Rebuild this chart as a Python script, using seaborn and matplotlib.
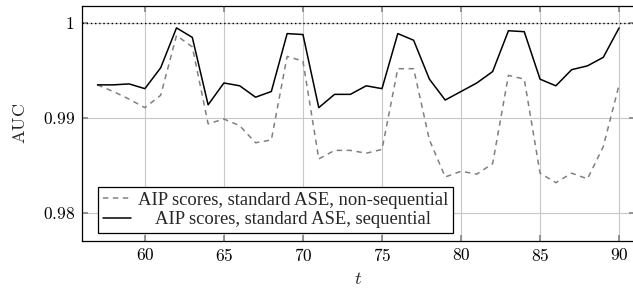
import matplotlib
matplotlib.use("Agg")
import matplotlib.pyplot as plt
import matplotlib.ticker as mticker
from matplotlib.transforms import Affine2D
import numpy as np
import pandas as pd
import seaborn as sns

# time steps
t_values = list(range(57, 91))

# AUC, non-sequential (dashed grey)
auc_nonseq = [0.9935, 0.9928, 0.9920, 0.9911, 0.9924, 0.9987, 0.9975, 0.9894,
              0.9899, 0.9892, 0.9874, 0.9877, 0.9965, 0.9960, 0.9857, 0.9866,
              0.9866, 0.9863, 0.9867, 0.9952, 0.9952, 0.9877, 0.9838, 0.9844,
              0.9841, 0.9852, 0.9945, 0.9941, 0.9842, 0.9832, 0.9842, 0.9836,
              0.9870, 0.9935]
# AUC, sequential (solid black)
auc_seq = [0.9935, 0.9935, 0.9936, 0.9931, 0.9953, 0.9995, 0.9985, 0.9914,
           0.9937, 0.9934, 0.9922, 0.9928, 0.9989, 0.9988, 0.9911, 0.9925,
           0.9925, 0.9934, 0.9931, 0.9989, 0.9982, 0.9941, 0.9919, 0.9928,
           0.9937, 0.9949, 0.9992, 0.9991, 0.9941, 0.9934, 0.9951, 0.9955,
           0.9964, 0.9995]

lbl_nonseq = "AIP scores, standard ASE, non-sequential"
lbl_seq = "AIP scores, standard ASE, sequential"

df = pd.concat([
    pd.DataFrame({"t": t_values, "AUC": auc_nonseq, "method": lbl_nonseq}),
    pd.DataFrame({"t": t_values, "AUC": auc_seq, "method": lbl_seq}),
], ignore_index=True)

sns.set_theme(style="whitegrid")
plt.rcParams["font.family"] = ["Liberation Serif", "DejaVu Serif"]
plt.rcParams["mathtext.fontset"] = "cm"

fig = plt.figure(figsize=(6.33, 2.88), dpi=100)
ax = fig.add_axes([0.129, 0.163, 0.874, 0.816])

ax.axhline(1.0, color="black", linestyle=(0, (1, 2)), linewidth=1.0, zorder=1)

sns.lineplot(data=df, x="t", y="AUC", hue="method", style="method",
             palette={lbl_nonseq: "#808080", lbl_seq: "black"},
             dashes={lbl_nonseq: (3.5, 3), lbl_seq: ""},
             linewidth=1.1, ax=ax, zorder=3)

ax.set_xlim(56, 91)
ax.set_ylim(0.97705, 1.0018)
ax.set_xticks(range(60, 91, 5))
ax.set_yticks([0.98, 0.99, 1.0])
ax.xaxis.set_major_formatter(mticker.FuncFormatter(lambda v, p: r"$%d$" % v))
ax.yaxis.set_major_formatter(mticker.FuncFormatter(
    lambda v, p: r"$1$" if abs(v - 1) < 1e-9 else r"$%.2f$" % v))

ax.grid(True, color="#c8c8c8", linewidth=0.8)
ax.set_facecolor("white")
for s in ax.spines.values():
    s.set_color("black")
    s.set_linewidth(0.9)
ax.tick_params(axis="both", which="both", direction="in", length=4,
               color="#888888", labelsize=12.5, labelcolor="black",
               top=True, right=True, bottom=True, left=True, pad=5)

ax.set_xlabel(r"$t$", fontsize=13.5, labelpad=4)
ax.set_ylabel(r"$\mathrm{AUC}$", fontsize=13, labelpad=10)

leg = ax.legend(loc="lower left", bbox_to_anchor=(0.03, 0.034), fontsize=13.4,
                frameon=True, fancybox=False, edgecolor="black",
                handlelength=1.5, borderpad=0.25, labelspacing=0.15,
                handletextpad=0.4, borderaxespad=0)
leg.get_frame().set_linewidth(0.9)
leg.get_frame().set_alpha(1)
leg.set_title(None)

# center the shorter legend entry like the original
fig.canvas.draw()
texts = leg.get_texts()
w0 = texts[0].get_window_extent().width
w1 = texts[1].get_window_extent().width
texts[1].set_transform(texts[1].get_transform() + Affine2D().translate((w0 - w1) / 2, 0))

fig.savefig("out.png", dpi=100)
